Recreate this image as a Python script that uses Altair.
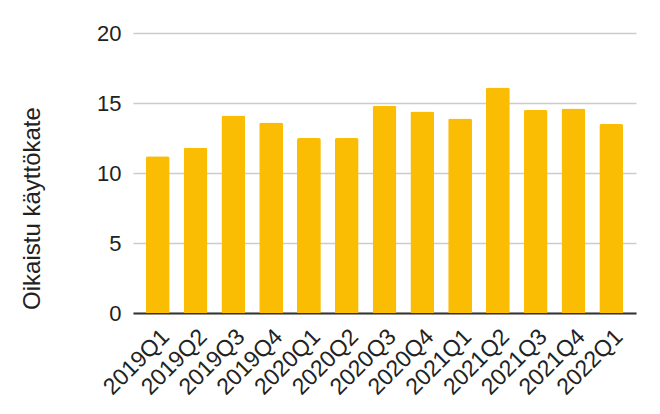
import altair as alt
import pandas as pd

quarters = ["2019Q1", "2019Q2", "2019Q3", "2019Q4", "2020Q1", "2020Q2", "2020Q3",
            "2020Q4", "2021Q1", "2021Q2", "2021Q3", "2021Q4", "2022Q1"]
values = [11.2, 11.8, 14.1, 13.6, 12.5, 12.5, 14.8, 14.4, 13.9, 16.1, 14.5, 14.6, 13.5]

df = pd.DataFrame({"q": quarters, "v": values})

FONT = "Liberation Sans"

bars = alt.Chart(df).mark_bar(
    color="#FBBC04", cornerRadiusTopLeft=2, cornerRadiusTopRight=2
).encode(
    x=alt.X("q:N", sort=quarters, title=None,
            scale=alt.Scale(paddingInner=0.37, paddingOuter=0.34),
            axis=alt.Axis(labelAngle=-45, labelAlign="right", labelBaseline="top",
                          labelFontSize=23, labelFont=FONT, labelColor="#222222",
                          labelPadding=12, ticks=False, domainColor="#333333",
                          domainWidth=2, grid=False, labelOverlap=False,
                          labelBound=False)),
    y=alt.Y("v:Q", title="Oikaistu käyttökate",
            scale=alt.Scale(domain=[0, 20], nice=False),
            axis=alt.Axis(values=[0, 5, 10, 15, 20], domain=False, ticks=False,
                          gridColor="#cccccc", gridWidth=1.5,
                          labelFontSize=22, labelFont=FONT, labelColor="#222222",
                          labelPadding=12, titleFontSize=24, titleFont=FONT,
                          titleFontWeight="normal", titleColor="#222222",
                          titleAngle=-90, titleAlign="center", titleBaseline="middle",
                          titleX=-101, titleY=175)),
)

chart = bars.properties(
    width=503, height=280,
    autosize=alt.AutoSizeParams(type="none"),
    padding={"left": 125, "top": 25, "right": 16, "bottom": 93},
).configure(background="white").configure_view(stroke=None)

chart.save("out.html", embed_options={"renderer": "svg", "actions": False})
